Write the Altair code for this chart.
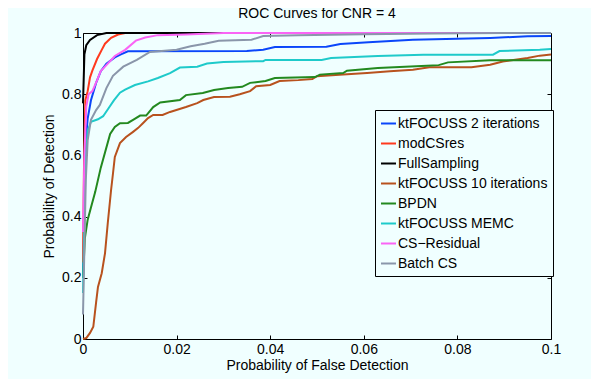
import altair as alt
import pandas as pd

series_names = ["ktFOCUSS 2 iterations", "modCSres", "FullSampling", "ktFOCUSS 10 iterations",
                "BPDN", "ktFOCUSS MEMC", "CS\u2212Residual", "Batch CS"]
series_colors = ["#0A46FA", "#FF3A1E", "#000000", "#B8521E", "#23891F", "#1ECACA", "#FA64F5", "#8A96AA"]

blue_x = [0, 0.0003, 0.0006, 0.001, 0.0017, 0.0028, 0.0038, 0.005, 0.0068, 0.0081, 0.0096, 0.035, 0.0385, 0.041, 0.052, 0.055, 0.061, 0.0705, 0.087, 0.095, 0.1]
blue_y = [0.2, 0.45, 0.65, 0.72, 0.78, 0.837, 0.875, 0.9, 0.92, 0.93, 0.94, 0.941, 0.945, 0.954, 0.955, 0.964, 0.97, 0.978, 0.984, 0.989, 0.99]

red_x = [0, 0.0002, 0.0005, 0.001, 0.0015, 0.002, 0.003, 0.004, 0.0047, 0.006, 0.0075, 0.009, 0.1]
red_y = [0.25, 0.55, 0.78, 0.81, 0.855, 0.877, 0.915, 0.945, 0.965, 0.984, 0.995, 1.0, 1.0]

black_x = [0, 0.0003, 0.0007, 0.0015, 0.003, 0.005, 0.1]
black_y = [0.77, 0.93, 0.96, 0.977, 0.993, 1.0, 1.0]

brown_x = [0, 0.0007, 0.0015, 0.0022, 0.0028, 0.0032, 0.004, 0.0047, 0.0053, 0.006, 0.0064, 0.0068, 0.0079, 0.0092, 0.0107, 0.0118, 0.0128, 0.0139, 0.015, 0.017, 0.0186, 0.022, 0.0244, 0.0257, 0.028, 0.0314, 0.0335, 0.0357, 0.037, 0.04, 0.042, 0.046, 0.049, 0.05, 0.0556, 0.0607, 0.0656, 0.0705, 0.074, 0.083, 0.087, 0.0897, 0.095, 0.0976, 0.1]
brown_y = [0, 0.003, 0.02, 0.04, 0.12, 0.17, 0.215, 0.28, 0.38, 0.487, 0.54, 0.595, 0.64, 0.66, 0.677, 0.69, 0.705, 0.722, 0.732, 0.732, 0.742, 0.758, 0.771, 0.781, 0.791, 0.792, 0.8, 0.81, 0.826, 0.83, 0.843, 0.846, 0.85, 0.859, 0.864, 0.869, 0.875, 0.88, 0.888, 0.888, 0.896, 0.907, 0.918, 0.926, 0.93]

green_x = [0, 0.0004, 0.001, 0.0017, 0.0026, 0.0038, 0.0058, 0.0068, 0.0079, 0.0096, 0.0107, 0.0122, 0.0135, 0.015, 0.0165, 0.0207, 0.022, 0.0256, 0.028, 0.031, 0.034, 0.0357, 0.039, 0.041, 0.0496, 0.0506, 0.0556, 0.0564, 0.063, 0.0735, 0.076, 0.078, 0.087, 0.1]
green_y = [0.2, 0.33, 0.39, 0.43, 0.48, 0.56, 0.67, 0.693, 0.705, 0.706, 0.716, 0.73, 0.73, 0.758, 0.773, 0.781, 0.797, 0.804, 0.814, 0.82, 0.824, 0.837, 0.843, 0.853, 0.856, 0.864, 0.869, 0.877, 0.886, 0.893, 0.895, 0.904, 0.911, 0.911]

cyan_x = [0, 0.0003, 0.0006, 0.001, 0.0017, 0.0032, 0.0043, 0.0055, 0.0066, 0.0079, 0.009, 0.0111, 0.0139, 0.016, 0.0186, 0.0207, 0.0244, 0.0265, 0.03, 0.0385, 0.039, 0.051, 0.053, 0.063, 0.0727, 0.0876, 0.089, 0.0976, 0.1]
cyan_y = [0.15, 0.4, 0.6, 0.68, 0.71, 0.718, 0.728, 0.755, 0.78, 0.805, 0.815, 0.83, 0.842, 0.853, 0.869, 0.887, 0.89, 0.9, 0.905, 0.908, 0.912, 0.912, 0.918, 0.925, 0.929, 0.929, 0.941, 0.945, 0.948]

pink_x = [0, 0.0003, 0.0007, 0.0012, 0.002, 0.003, 0.0038, 0.0053, 0.0068, 0.009, 0.0113, 0.0133, 0.016, 0.022, 0.03, 0.1]
pink_y = [0.35, 0.6, 0.76, 0.8, 0.81, 0.845, 0.876, 0.9, 0.925, 0.945, 0.975, 0.985, 0.993, 0.995, 1.0, 1.0]

gray_x = [0, 0.0003, 0.0006, 0.001, 0.0017, 0.0028, 0.0036, 0.005, 0.0064, 0.0086, 0.0115, 0.0143, 0.02, 0.023, 0.026, 0.029, 0.036, 0.0385, 0.046, 0.06, 0.075, 0.09, 0.1]
gray_y = [0.08, 0.3, 0.52, 0.65, 0.716, 0.748, 0.765, 0.82, 0.86, 0.89, 0.912, 0.938, 0.945, 0.957, 0.965, 0.975, 0.978, 0.99, 0.993, 0.996, 0.998, 1.0, 1.0]

all_x = [blue_x, red_x, black_x, brown_x, green_x, cyan_x, pink_x, gray_x]
all_y = [blue_y, red_y, black_y, brown_y, green_y, cyan_y, pink_y, gray_y]

x_ticks = [0, 0.02, 0.04, 0.06, 0.08, 0.1]
y_ticks = [0, 0.2, 0.4, 0.6, 0.8, 1]

rows = []
for name, xs, ys in zip(series_names, all_x, all_y):
    for i, (xv, yv) in enumerate(zip(xs, ys)):
        rows.append({"method": name, "fpr": xv, "pdet": yv, "idx": i})
df = pd.DataFrame(rows)

FONT = "Liberation Sans"
BG = "#F0FFFF"

xscale = alt.Scale(domain=[0, 0.1], nice=False, zero=False)
yscale = alt.Scale(domain=[0, 1], nice=False, zero=False)

lines = alt.Chart(df).mark_line(strokeWidth=2).encode(
    x=alt.X("fpr:Q", scale=xscale,
            axis=alt.Axis(orient="bottom", values=x_ticks, format="~g", tickSize=4, offset=-4,
                          domain=False, grid=False, labelPadding=3, labelFlush=False,
                          labelOverlap=False, title="Probability of False Detection",
                          titlePadding=2)),
    y=alt.Y("pdet:Q", scale=yscale,
            axis=alt.Axis(orient="left", values=y_ticks, format="~g", tickSize=4, offset=-4,
                          domain=False, grid=False, labelPadding=2, labelFlush=False,
                          labelOverlap=False, title="Probability of Detection",
                          titlePadding=5)),
    color=alt.Color("method:N",
                    scale=alt.Scale(domain=series_names, range=series_colors),
                    legend=alt.Legend(orient="none", legendX=292, legendY=77, title="",
                                      symbolType="stroke", symbolSize=225, symbolStrokeWidth=2,
                                      labelFontSize=14, labelFont=FONT, labelColor="black",
                                      labelLimit=300, rowPadding=4, labelOffset=1, padding=5,
                                      strokeColor="black", fillColor=BG)),
    order="idx:Q",
)

ghost = alt.Chart(df).mark_line(opacity=0).encode(
    x=alt.X("fpr:Q", scale=xscale,
            axis=alt.Axis(orient="top", values=x_ticks[1:-1], labels=False, tickSize=4, offset=-4,
                          domain=False, grid=False, title=None)),
    y=alt.Y("pdet:Q", scale=yscale,
            axis=alt.Axis(orient="right", values=y_ticks[1:-1], labels=False, tickSize=4, offset=-4,
                          domain=False, grid=False, title=None)),
    detail="method:N",
)

chart = alt.layer(lines, ghost).resolve_axis(x="independent", y="independent").properties(
    width=468, height=306,
    title=alt.TitleParams("ROC Curves for CNR = 4", font=FONT, fontSize=14, fontWeight="normal",
                          color="black", offset=5),
    padding={"left": 75, "top": 25, "right": 40, "bottom": 40},
    autosize=alt.AutoSizeParams(type="none"),
    background=BG,
).configure_view(stroke="black", strokeWidth=1).configure_axis(
    labelFont=FONT, titleFont=FONT, labelFontSize=14, titleFontSize=14, titleFontWeight="normal",
    labelColor="black", titleColor="black", tickColor="black", tickWidth=1,
)

chart.save("out.html", embed_options={"renderer": "svg", "actions": False})
